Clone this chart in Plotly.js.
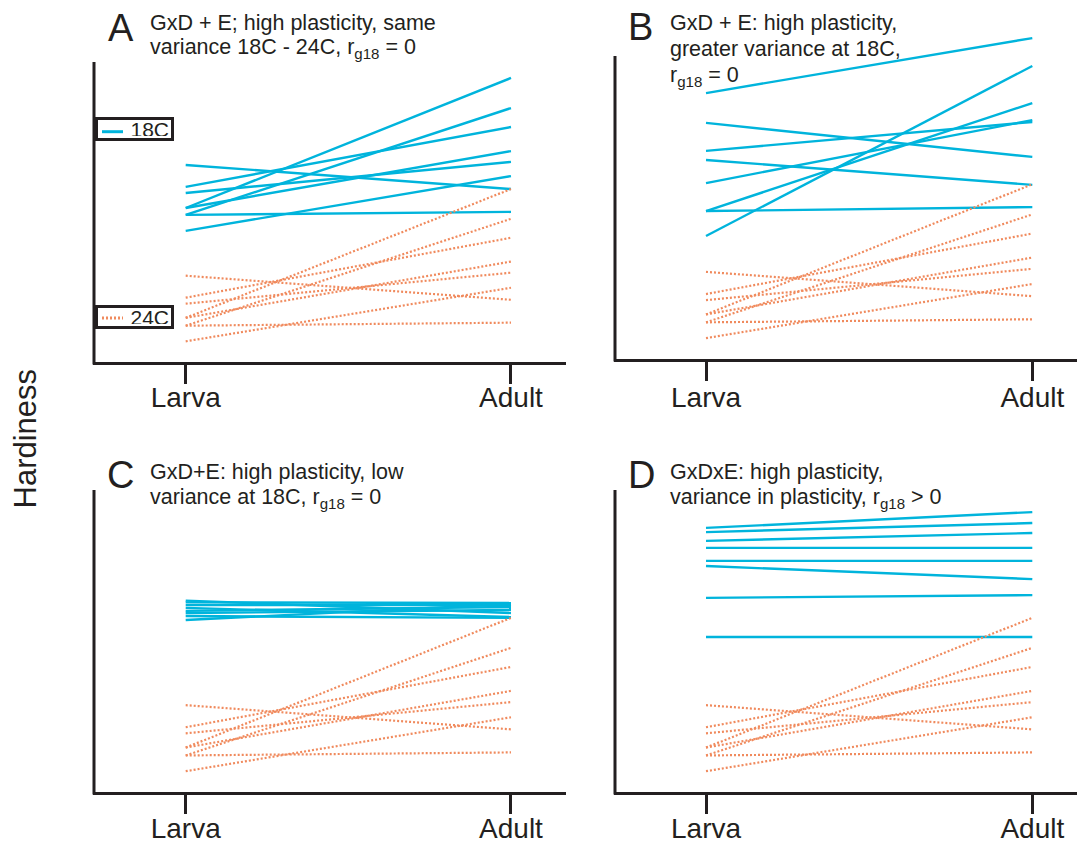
<!DOCTYPE html>
<html>
<head>
<meta charset="utf-8">
<script src="https://cdn.plot.ly/plotly-3.0.1.min.js"></script>
<style>
  html, body { margin: 0; padding: 0; background: #ffffff; }
  #chart { width: 1078px; height: 846px; }
</style>
</head>
<body>
<div id="chart"></div>
<script>
// Developmental stages on the x axis
const stages = ['Larva', 'Adult'];

// 24C reaction norms (same set of genotypes in every panel)
const warmLarva = [29.0, 21.7, 19.7, 15.0, 15.0, 12.4, 12.4, 7.2];
const warmAdult = [21.0, 41.6, 30.0, 57.8, 33.7, 47.9, 13.4, 25.0];

// 18C reaction norms, one pair of arrays per scenario
const coolLarvaA = [65.8, 58.5, 56.5, 51.5, 51.5, 49.2, 49.2, 43.9];
const coolAdultA = [57.8, 78.4, 66.8, 94.7, 70.4, 84.7, 50.2, 62.1];

const coolLarvaB = [87.8, 78.0, 65.8, 68.8, 58.2, 49.0, 49.0, 40.8];
const coolAdultB = [105.9, 66.8, 57.6, 78.3, 78.9, 84.5, 50.3, 96.7];

const coolLarvaC = [63.5, 62.9, 62.0, 61.1, 60.1, 59.4, 58.4, 57.1];
const coolAdultC = [59.4, 62.7, 62.0, 58.1, 61.4, 60.4, 57.8, 62.4];

const coolLarvaD = [87.5, 86.1, 83.2, 80.9, 76.6, 74.9, 64.4, 51.5];
const coolAdultD = [92.7, 89.1, 85.8, 80.9, 76.6, 70.6, 65.3, 51.5];

// Panel letters and headings
const panelLetters = ['A', 'B', 'C', 'D'];
const panelHeadings = [
  ['GxD + E; high plasticity, same', 'variance 18C - 24C, r<sub>g18</sub> = 0'],
  ['GxD + E: high plasticity,', 'greater variance at 18C,', 'r<sub>g18</sub> = 0'],
  ['GxD+E: high plasticity, low', 'variance at 18C, r<sub>g18</sub> = 0'],
  ['GxDxE: high plasticity,', 'variance in plasticity, r<sub>g18</sub> &gt; 0']
];
const legendLabels = ['18C', '24C'];
const yTitle = 'Hardiness';

// ---- styling and page geometry ----
const W = 1078, H = 846;
const FONT = 'Liberation Sans, Arial, Helvetica, sans-serif';
const INK = '#231f20';
const COOL = '#00b4dc';
const WARM = '#f08a5d';
const px = v => v / W;          // horizontal pixel -> paper
const py = v => 1 - v / H;      // vertical pixel -> paper

const coolLarva = [coolLarvaA, coolLarvaB, coolLarvaC, coolLarvaD];
const coolAdult = [coolAdultA, coolAdultB, coolAdultC, coolAdultD];

// frame of each panel in pixels
const frames = [
  { l: 92.5,  r: 566,  b: 361.5, t: 62, xr: [-0.2865, 1.1691], yr: [0.5, 100],    sx: 94,  st: 62, sb: 364.5, so: -10 },
  { l: 613.5, r: 1077, b: 358.5, t: 30, xr: [-0.2835, 1.137],  yr: [0.5, 108.55], sx: 615, st: 56, sb: 361.5, so: -7 },
  { l: 92.5,  r: 566,  b: 791.5, t: 490, xr: [-0.2865, 1.1691], yr: [0.5, 100],   sx: 94,  st: 490, sb: 794.5, so: -9 },
  { l: 613.5, r: 1077, b: 791.5, t: 490, xr: [-0.2835, 1.137],  yr: [0.5, 100],   sx: 615, st: 490, sb: 794.5, so: -9 }
];

// heading placement (top of text box, left edge)
const headingPos = [
  { lx: 106.5, ly: 6.3,   tx: 148.5, ty: [9.8, 34.5] },
  { lx: 627,   ly: 4.9,   tx: 668.5, ty: [9.8, 35.5, 62.2] },
  { lx: 106,   ly: 452.9, tx: 148.5, ty: [458.8, 484.5] },
  { lx: 627,   ly: 452.9, tx: 668.5, ty: [458.8, 484.5] }
];

const traces = [];
const layout = {
  width: W, height: H,
  margin: { l: 0, r: 0, t: 0, b: 0, pad: 0 },
  paper_bgcolor: '#ffffff',
  plot_bgcolor: 'rgba(0,0,0,0)',
  showlegend: false,
  font: { family: FONT, color: INK },
  annotations: [],
  shapes: []
};

frames.forEach((f, i) => {
  const s = i === 0 ? '' : String(i + 1);
  const xa = 'x' + s, ya = 'y' + s;

  coolLarva[i].forEach((v, j) => {
    traces.push({
      x: stages, y: [v, coolAdult[i][j]],
      xaxis: xa, yaxis: ya, type: 'scatter', mode: 'lines',
      name: legendLabels[0], hoverinfo: 'skip',
      line: { color: COOL, width: 2.4 }
    });
  });
  warmLarva.forEach((v, j) => {
    traces.push({
      x: stages, y: [v, warmAdult[j]],
      xaxis: xa, yaxis: ya, type: 'scatter', mode: 'lines',
      name: legendLabels[1], hoverinfo: 'skip',
      line: { color: WARM, width: 2.2, dash: '2px,2px' }
    });
  });

  layout['xaxis' + s] = {
    domain: [px(f.l), px(f.r)],
    anchor: ya,
    type: 'category',
    range: f.xr,
    showline: true, linewidth: 3, linecolor: INK,
    ticks: 'outside', ticklen: 19, tickwidth: 3, tickcolor: INK,
    ticklabelstandoff: f.so,
    tickfont: { family: FONT, size: 28, color: INK },
    showgrid: false, zeroline: false, fixedrange: true
  };
  layout['yaxis' + s] = {
    domain: [py(f.b), py(f.t)],
    anchor: xa,
    range: f.yr,
    showline: false, showticklabels: false, ticks: '',
    showgrid: false, zeroline: false, fixedrange: true
  };

  // left spine of the panel
  layout.shapes.push({
    type: 'line', xref: 'paper', yref: 'paper',
    x0: px(f.sx), x1: px(f.sx), y0: py(f.sb), y1: py(f.st),
    line: { color: INK, width: 3 }
  });

  // panel letter
  const hp = headingPos[i];
  layout.annotations.push({
    xref: 'paper', yref: 'paper', x: px(hp.lx), y: py(hp.ly),
    xanchor: 'left', yanchor: 'top', showarrow: false, borderpad: 0,
    text: panelLetters[i], font: { family: FONT, size: 38, color: INK }
  });
  // heading lines
  panelHeadings[i].forEach((line, k) => {
    layout.annotations.push({
      xref: 'paper', yref: 'paper', x: px(hp.tx), y: py(hp.ty[k]),
      xanchor: 'left', yanchor: 'top', showarrow: false, borderpad: 0,
      align: 'left',
      text: line, font: { family: FONT, size: 21.5, color: INK }
    });
  });
});

// shared y-axis label
layout.annotations.push({
  xref: 'paper', yref: 'paper', x: px(25), y: py(438.5),
  xanchor: 'center', yanchor: 'middle', showarrow: false, textangle: -90,
  text: yTitle, font: { family: FONT, size: 31, color: INK }
});

// legend keys inside panel A: white backing box, then key line, then framed label
const keys = [
  { top: 117, lineY: 131.7, color: COOL, dash: 'solid' },
  { top: 305, lineY: 318,   color: WARM, dash: '2px,2px' }
];
keys.forEach((k, i) => {
  layout.shapes.push({
    type: 'rect', xref: 'paper', yref: 'paper', layer: 'above',
    x0: px(96), x1: px(173), y0: py(k.top + 23), y1: py(k.top + 1),
    line: { width: 0 }, fillcolor: '#ffffff'
  });
  layout.shapes.push({
    type: 'line', xref: 'paper', yref: 'paper', layer: 'above',
    x0: px(102), x1: px(123), y0: py(k.lineY), y1: py(k.lineY),
    line: { color: k.color, width: 3, dash: k.dash }
  });
  layout.annotations.push({
    xref: 'paper', yref: 'paper', x: px(95), y: py(k.top),
    xanchor: 'left', yanchor: 'top', showarrow: false,
    width: 69, height: 14, align: 'right', valign: 'middle',
    borderwidth: 3, borderpad: 2, bordercolor: INK, bgcolor: 'rgba(0,0,0,0)',
    text: legendLabels[i], font: { family: FONT, size: 21, color: INK }
  });
});

Plotly.newPlot('chart', traces, layout, { displayModeBar: false, staticPlot: true });
</script>
</body>
</html>
